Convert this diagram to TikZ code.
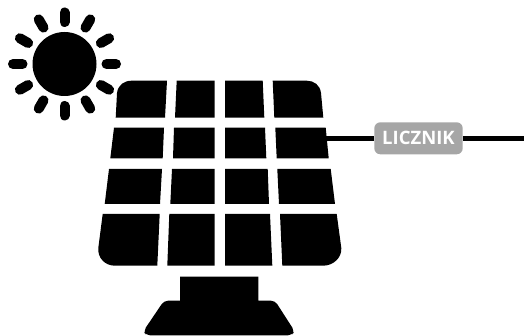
\documentclass[tikz,border=0pt]{standalone}
\usepackage{fontspec}
\setmainfont{Open Sans}
\definecolor{metergray}{HTML}{A6A6A6}
\tikzset{
  cell/.style={fill=black,draw=none},
  ray/.style={draw=black,line width=10pt,line cap=round},
  wire/.style={draw=black,line width=4.5pt},
  meter/.style={fill=metergray,draw=none,rounded corners=6pt,minimum width=88.4pt,minimum height=32pt,inner sep=0pt,text=white,font=\bfseries\fontsize{18.5}{18.5}\selectfont}
}
\begin{document}
\begin{tikzpicture}[x=1pt,y=-1pt]
\useasboundingbox (0,0) rectangle (524,336);
% sun
\fill[black] (64.5,64) circle[radius=32];
\foreach \a in {0,30,...,330}{\draw[ray] (64.5,64) ++(\a:42) -- ++(\a:9.5);}
% row 1
\fill[cell] (115.7,117.7) -- (117,93) .. controls (118,85) and (124,80.7) .. (131.7,80.7) -- (167,80.7) -- (165,117.7) -- cycle;
\fill[cell] (175,117.7) -- (176.7,80.7) -- (214.7,80.7) -- (214.7,117.7) -- cycle;
\fill[cell] (225,117.7) -- (225,80.7) -- (262.7,80.7) -- (264.3,117.7) -- cycle;
\fill[cell] (274.3,117.7) -- (272.7,80.7) -- (306.7,80.7) .. controls (314,80.7) and (320,85) .. (321,93) -- (323.3,117.7) -- cycle;
% row 2
\fill[cell] (110.3,158.3) -- (114,127.7) -- (164,127.7) -- (162.7,158.3) -- cycle;
\fill[cell] (173,158.3) -- (174,127.7) -- (214.7,127.7) -- (214.7,158.3) -- cycle;
\fill[cell] (225,158.3) -- (225,127.7) -- (265,127.7) -- (266.3,158.3) -- cycle;
\fill[cell] (276.7,158.3) -- (275.3,127.7) -- (325.7,127.7) -- (328.7,158.3) -- cycle;
% row 3
\fill[cell] (104.7,204) -- (109,169) -- (162,169) -- (160,204) -- cycle;
\fill[cell] (170.3,204) -- (172,169) -- (214.7,169) -- (214.7,204) -- cycle;
\fill[cell] (225,204) -- (225,169) -- (267.7,169) -- (269,204) -- cycle;
\fill[cell] (279,204) -- (277.3,169) -- (330.7,169) -- (335,204) -- cycle;
% row 4
\fill[cell] (102.7,214) -- (159.7,214) -- (157.3,265.7) -- (115,265.7) .. controls (105,265.7) and (97.5,258) .. (98.3,248) -- cycle;
\fill[cell] (169.3,214) -- (214.7,214) -- (214.7,265.7) -- (167.3,265.7) -- cycle;
\fill[cell] (225,214) -- (270,214) -- (272.3,265.7) -- (225,265.7) -- cycle;
\fill[cell] (280,214) -- (336.7,214) -- (341.3,248) .. controls (342,258) and (333,265.7) .. (323,265.7) -- (282.3,265.7) -- cycle;
% stand
\fill[cell,rounded corners=3pt] (180,276.7) [sharp corners] -- (258.3,276.7) -- (258.3,300.7) [rounded corners=4pt] -- (275,300.7) -- (294.5,331) -- (292,335.3) -- (146,335.3) -- (143.5,331) -- (164,300.7) [sharp corners] -- (180,300.7) -- cycle;
% meter and wires
\coordinate (panel) at (326,138.3);
\coordinate (edge) at (524,138.3);
\node[meter] (lic) at (418.5,138.3) {LICZNIK};
\draw[wire] (panel) -- (lic.west);
\draw[wire] (lic.east) -- (edge);
\end{tikzpicture}
\end{document}
